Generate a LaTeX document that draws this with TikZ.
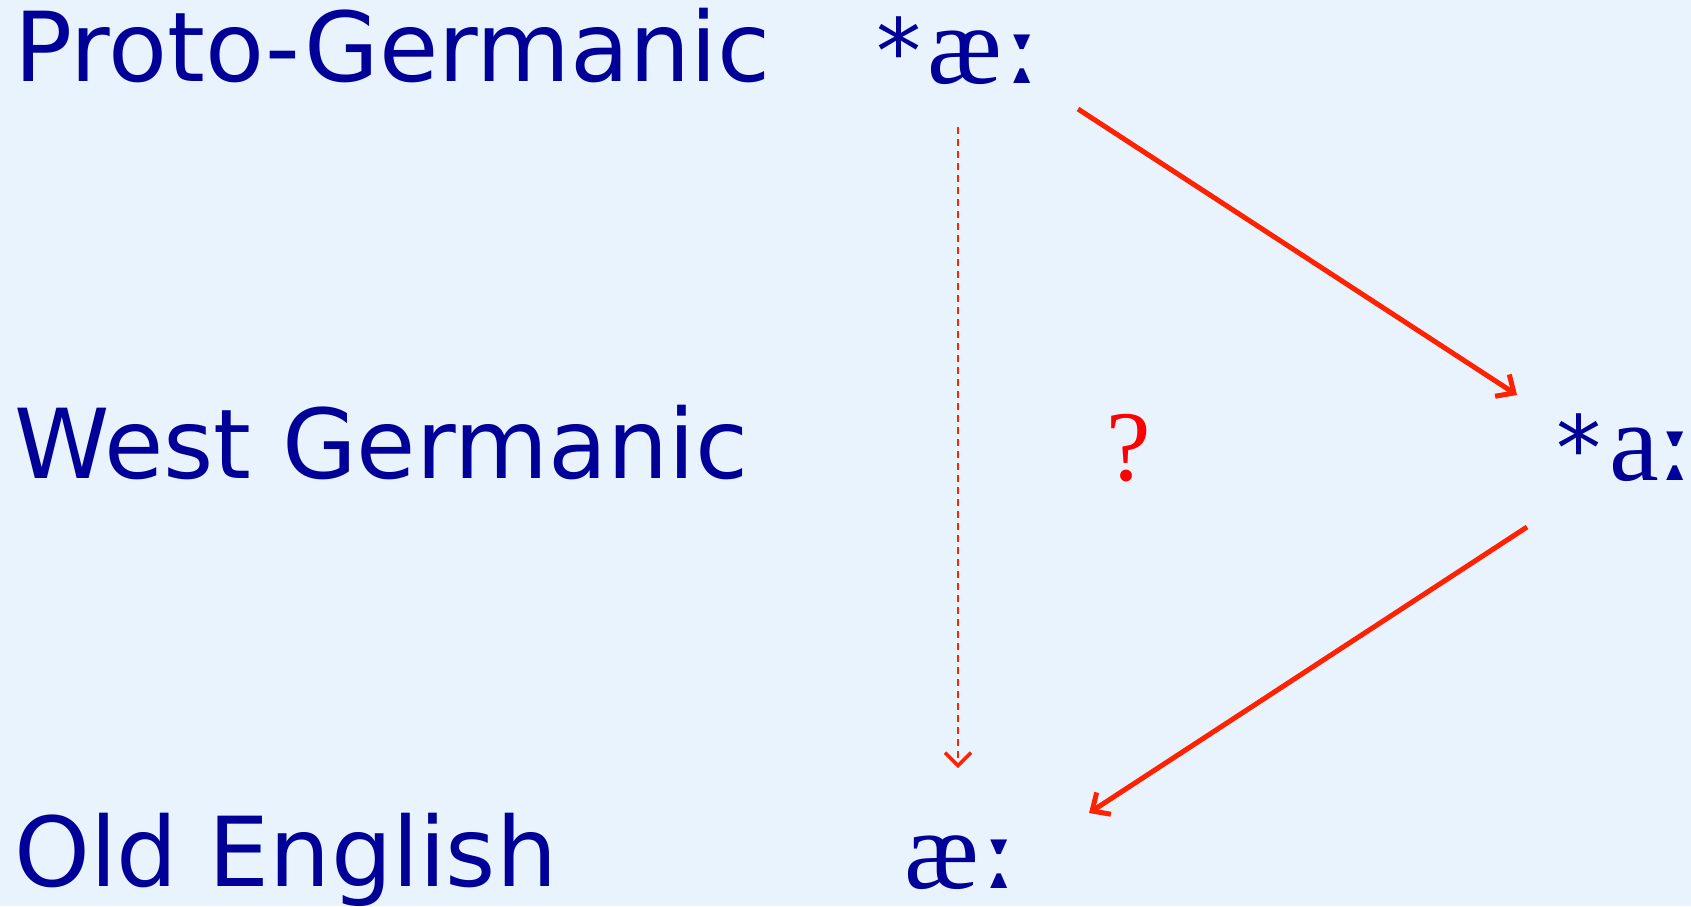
\documentclass[tikz,border=0pt]{standalone}
\usepackage{fontspec}
\setmainfont{DejaVu Sans}
\newfontfamily\ipafont{Liberation Serif}
\newfontfamily\lenfont{DejaVu Serif}
\newfontfamily\astfont{DejaVu Sans}
\newcommand{\myast}{{\astfont\fontsize{90}{90}\selectfont *}}
\newcommand{\mylen}{{\lenfont\bfseries ː}}
\usetikzlibrary{arrows.meta}
\definecolor{bgc}{HTML}{E8F3FD}
\definecolor{navy}{HTML}{000099}
\definecolor{arr}{HTML}{FF2200}
\tikzset{
  lbl/.style={anchor=base west, inner sep=0pt, text=navy, font=\fontsize{96.5}{100}\selectfont},
  ipa/.style={anchor=base west, inner sep=0pt, text=navy, font=\ipafont\fontsize{112}{112}\selectfont},
  solidarr/.style={draw=arr, line width=5pt, -{Straight Barb[length=14pt,width=26pt,line width=5pt]}},
  dasharr/.style={draw=arr, line width=2pt, dash pattern=on 7pt off 5pt, -{Straight Barb[length=13pt,width=26pt,line width=3.5pt]}}
}
\begin{document}
\begin{tikzpicture}[x=1pt,y=-1pt]
\useasboundingbox[fill=bgc] (0,0) rectangle (1691,906);
\node[lbl] (pg) at (14,81) {Proto-Germanic};
\node[lbl] (wg) at (14,478) {West Germanic};
\node[lbl] (oe) at (14,886) {Old English};
\node[ipa] (pgv) at (876,83) {\myast\hspace{6pt}æ\mylen};
\node[ipa] (wgv) at (1556,480) {\myast\hspace{8pt}a\kern-4pt\mylen};
\node[ipa] (oev) at (904,888) {æ\mylen};
\node[anchor=base west, inner sep=0pt, text=red, font=\ipafont\fontsize{100}{100}\selectfont] (q) at (1106,480) {?};
\coordinate (a1s) at (1078,109);
\coordinate (a1e) at (1517,395);
\coordinate (a2s) at (1527,527);
\coordinate (a2e) at (1089,813);
\coordinate (ds) at (958,127);
\coordinate (de) at (958,768);
\draw[solidarr] (a1s) -- (a1e);
\draw[solidarr] (a2s) -- (a2e);
\draw[dasharr] (ds) -- (de);
\end{tikzpicture}
\end{document}
